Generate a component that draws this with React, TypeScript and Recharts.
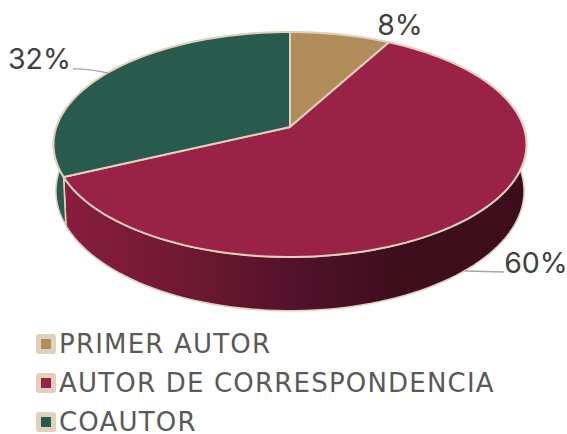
import { Cell, Legend, Pie, PieChart } from "recharts";

const names = ["PRIMER AUTOR", "AUTOR DE CORRESPONDENCIA", "COAUTOR"];
const values = [8, 60, 32];
const topColors = ["#b08d5b", "#9b2247", "#285a4d"];
const wallFills = ["#7d6540", "url(#wallMaroon)", "#285a4d"];

const rows = names.map((name, i) => ({ name, value: values[i] }));

const EDGE = "#e0d0bc";
const FONT = "Inter, 'Open Sans', sans-serif";
const RADIUS = 233.6;
const FLATTEN = 0.47;
const TILT = 0.1556;
const DEPTH = 45.4;
const SHRINK = 0.99;

// circle -> tilted disc, the back of the pie is further away
function project(cx: number, cy: number, r: number, deg: number) {
  const a = (deg * Math.PI) / 180;
  const w = 1 + TILT * Math.sin(a);
  return { x: cx + (r * Math.cos(a)) / w, y: cy - (r * FLATTEN * Math.sin(a)) / w, w };
}

function arc(cx: number, cy: number, r: number, from: number, to: number) {
  const steps = Math.max(2, Math.ceil(Math.abs(to - from) / 2));
  const out = [];
  for (let i = 0; i <= steps; i++) out.push(project(cx, cy, r, from + ((to - from) * i) / steps));
  return out;
}

function TopFace(props: any) {
  const { cx, cy, outerRadius, startAngle, endAngle, fill } = props;
  const pts = arc(cx, cy, outerRadius, startAngle, endAngle);
  const d = `M${cx},${cy} ` + pts.map((p) => `L${p.x},${p.y}`).join(" ") + " Z";
  return <path d={d} fill={fill} stroke={EDGE} strokeWidth={2} strokeLinejoin="round" />;
}

function WallFace(props: any) {
  const { cx, cy, outerRadius, startAngle, endAngle, fill } = props;
  const upper = arc(cx, cy, outerRadius, startAngle, endAngle);
  const lower = upper
    .map((p) => ({ x: cx + (p.x - cx) * SHRINK, y: p.y + DEPTH / p.w }))
    .reverse();
  const d = [...upper, ...lower].map((p, i) => `${i ? "L" : "M"}${p.x},${p.y}`).join(" ") + " Z";
  return <path d={d} fill={fill} stroke={EDGE} strokeWidth={1.6} strokeLinejoin="round" />;
}

const labelSpots = [
  { x: 400, y: 35, line: "" },
  { x: 536, y: 273, line: "M504,272 L465,271" },
  { x: 39.5, y: 69, line: "M73,69 C85,68 92,70 108,73" },
];

function PercentLabel(props: any) {
  const { index, percent } = props;
  const spot = labelSpots[index];
  return (
    <g>
      {spot.line && <path d={spot.line} fill="none" stroke="#a6a6a6" strokeWidth={1.3} />}
      <text x={spot.x} y={spot.y} textAnchor="middle" fontFamily={FONT} fontSize={28.5} fill="#404040">
        {Math.round(percent * 100)}%
      </text>
    </g>
  );
}

function LegendRows() {
  return (
    <div style={{ display: "flex", flexDirection: "column", gap: 19 }}>
      {names.map((name, i) => (
        <div key={name} style={{ display: "flex", alignItems: "center", height: 20 }}>
          <span
            style={{
              width: 20,
              height: 20,
              borderRadius: 3,
              background: EDGE,
              display: "flex",
              alignItems: "center",
              justifyContent: "center",
              marginRight: 3,
            }}
          >
            <span style={{ width: 10, height: 10, background: topColors[i] }} />
          </span>
          <span
            style={{
              fontFamily: "'DejaVu Sans', sans-serif",
              fontSize: 26,
              lineHeight: "20px",
              letterSpacing: 1.2,
              color: "#595959",
              whiteSpace: "nowrap",
            }}
          >
            {name}
          </span>
        </div>
      ))}
    </div>
  );
}

export default function App() {
  return (
    <div style={{ position: "absolute", left: 0, top: 0, width: 567, height: 434, background: "#fff" }}>
      <PieChart width={567} height={434} margin={{ top: 0, right: 0, bottom: 0, left: 0 }}>
        <defs>
          <linearGradient id="wallMaroon" x1="0" y1="0" x2="1" y2="0">
            <stop offset="0%" stopColor="#8a1d3f" />
            <stop offset="30%" stopColor="#6a1830" />
            <stop offset="50%" stopColor="#52122a" />
            <stop offset="72%" stopColor="#3e0e1c" />
            <stop offset="100%" stopColor="#3c0e1b" />
          </linearGradient>
        </defs>
        <Pie
          data={rows}
          dataKey="value"
          nameKey="name"
          cx={290}
          cy={127}
          outerRadius={RADIUS}
          startAngle={90}
          endAngle={-270}
          legendType="none"
          shape={WallFace}
          isAnimationActive={false}
        >
          {rows.map((r, i) => (
            <Cell key={r.name} fill={wallFills[i]} />
          ))}
        </Pie>
        <Pie
          data={rows}
          dataKey="value"
          nameKey="name"
          cx={290}
          cy={127}
          outerRadius={RADIUS}
          startAngle={90}
          endAngle={-270}
          shape={TopFace}
          label={PercentLabel}
          labelLine={false}
          isAnimationActive={false}
        >
          {rows.map((r, i) => (
            <Cell key={r.name} fill={topColors[i]} />
          ))}
        </Pie>
        <Legend content={LegendRows} wrapperStyle={{ left: 36, top: 334, width: 520, bottom: "auto" }} />
      </PieChart>
    </div>
  );
}
